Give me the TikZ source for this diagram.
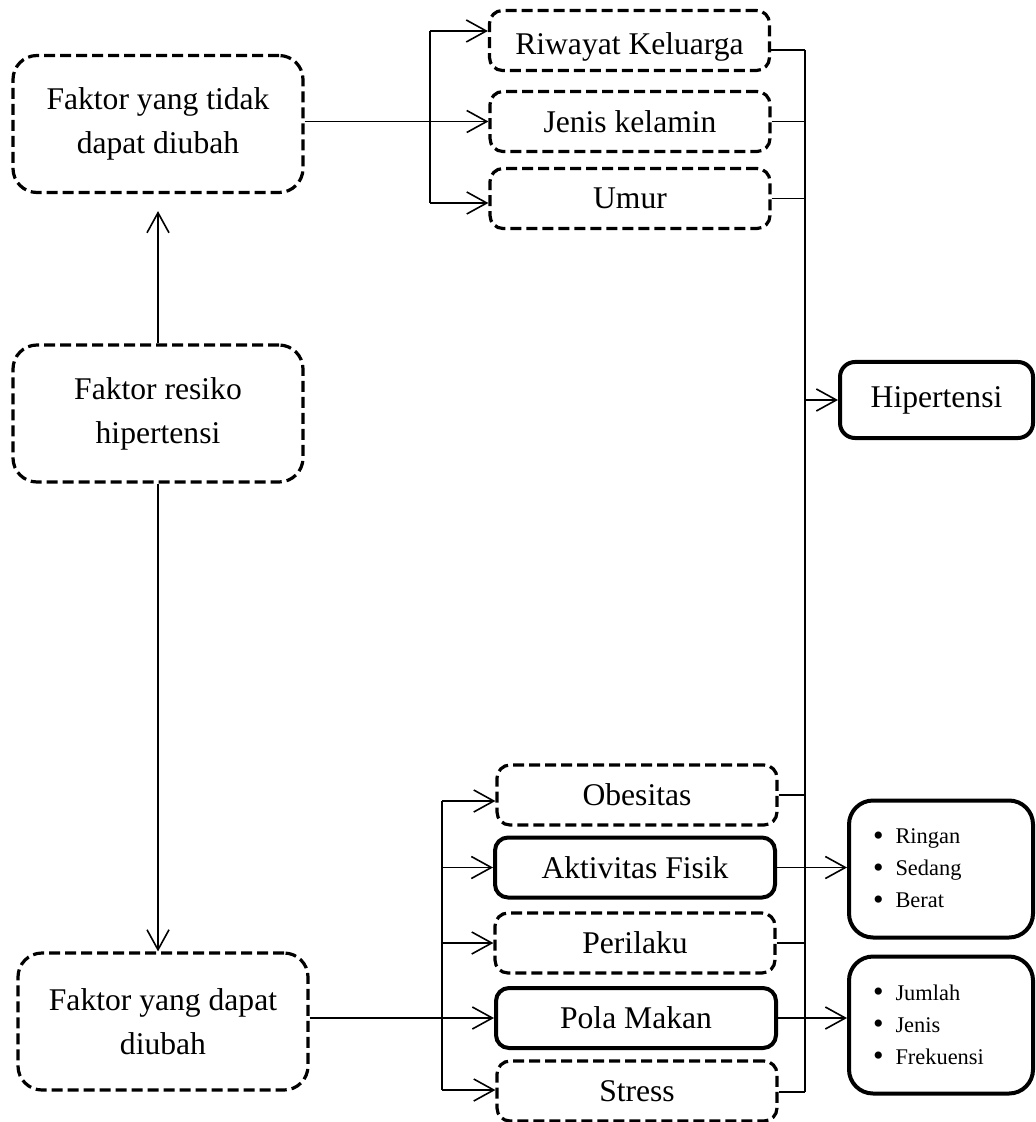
\documentclass[tikz,border=0pt]{standalone}
\usepackage{fontspec}
\setmainfont{Liberation Serif}
\usetikzlibrary{arrows.meta}
\newcommand{\butir}{\raisebox{-0.6pt}{\fontsize{15}{15}\selectfont\textbullet}\hspace{6pt}}

\begin{document}
\begin{tikzpicture}[x=0.5pt,y=-0.5pt]
  \useasboundingbox (0,0) rectangle (1035,1122);
  \begin{scope}[
    every node/.style={
      align=center,
      anchor=center,
      draw,
      inner sep=0pt,
      font=\fontsize{15.8}{22}\selectfont,
      line width=1.6pt,
      dash pattern=on 5.5pt off 2.5pt,
      rounded corners=12pt,
      minimum width=145pt,
      minimum height=68.5pt,
    },
    ]
    \node (tetap)  at (158,124)    {Faktor yang tidak\\dapat diubah};
    \node (resiko) at (158,413.5)  {Faktor resiko\\hipertensi};
    \node (ubah)   at (163,1021.5) {Faktor yang dapat\\diubah};
  \end{scope}
  \begin{scope}[
    every node/.style={
      align=center,
      anchor=center,
      draw,
      inner sep=0pt,
      font=\fontsize{15.8}{22}\selectfont,
      line width=1.6pt,
      dash pattern=on 5.5pt off 2.5pt,
      rounded corners=6.5pt,
      minimum width=140pt,
      minimum height=30pt,
    },
    ]
    \node (riwayat)  at (629.5,40.5) {\raisebox{-3pt}[\height][\depth]{Riwayat Keluarga}};
    \node (kelamin)  at (630,121.5)  {Jenis kelamin};
    \node (umur)     at (630,198.5)  {Umur};
    \node (obesitas) at (637,795)    {Obesitas};
    \node[solid,line width=2pt] (fisik) at (635,867.5) {Aktivitas Fisik};
    \node (perilaku) at (635,943)    {Perilaku};
    \node[solid,line width=2pt] (makan) at (636,1018)  {Pola Makan};
    \node (stress)   at (637,1091)   {Stress};
    \node[solid,line width=2pt,minimum width=96.5pt,minimum height=38pt,rounded corners=7.5pt]
      (hipertensi) at (936.5,400) {Hipertensi};
  \end{scope}
  \begin{scope}[
    every node/.style={
      align=left,
      anchor=center,
      draw,
      inner xsep=12pt,
      inner ysep=0pt,
      text width=68pt,
      font=\fontsize{11.2}{16}\selectfont,
      line width=2pt,
      rounded corners=12pt,
      minimum height=68.5pt,
    },
    ]
    \node (ketfisik) at (941,869)  {\butir Ringan\\\butir Sedang\\\butir Berat};
    \node (ketmakan) at (941,1025) {\butir Jumlah\\\butir Jenis\\\butir Frekuensi};
  \end{scope}
  \coordinate (cabang1) at (430,31);
  \coordinate (cabang2) at (430,203);
  \coordinate (cabang3) at (442,801);
  \coordinate (cabang4) at (442,1090);
  \coordinate (tulang1) at (805,50);
  \coordinate (tulang2) at (805,1092);
  \begin{scope}[
    every path/.style={line width=0.8pt,>={Straight Barb[length=10pt,width=11pt]}},
    ]
    \path[->]
    (resiko.north) edge[shorten >=8.5pt] (tetap.south)
    (resiko.south) edge (resiko.south |- ubah.north)
    (tetap.east |- kelamin.west) edge (kelamin.west)
    (cabang1) edge (cabang1 -| riwayat.west)
    (cabang2) edge (cabang2 -| umur.west)
    (ubah.east |- makan.west) edge (makan.west)
    (cabang3) edge (cabang3 -| obesitas.west)
    (cabang3 |- fisik.west) edge (fisik.west)
    (cabang3 |- perilaku.west) edge (perilaku.west)
    (cabang4) edge (cabang4 -| stress.west)
    (tulang1 |- hipertensi.west) edge (hipertensi.west)
    (fisik.east) edge (fisik.east -| ketfisik.west)
    (makan.east) edge (makan.east -| ketmakan.west);
    \draw
    (cabang1) -- (cabang2)
    (cabang3) -- (cabang4)
    (tulang1) -- (tulang2)
    (riwayat.east |- tulang1) -- (tulang1)
    (kelamin.east) -- (kelamin.east -| tulang1)
    (umur.east) -- (umur.east -| tulang1)
    (obesitas.east) -- (obesitas.east -| tulang1)
    (perilaku.east) -- (perilaku.east -| tulang1)
    (stress.east |- tulang2) -- (tulang2);
  \end{scope}
\end{tikzpicture}
\end{document}
